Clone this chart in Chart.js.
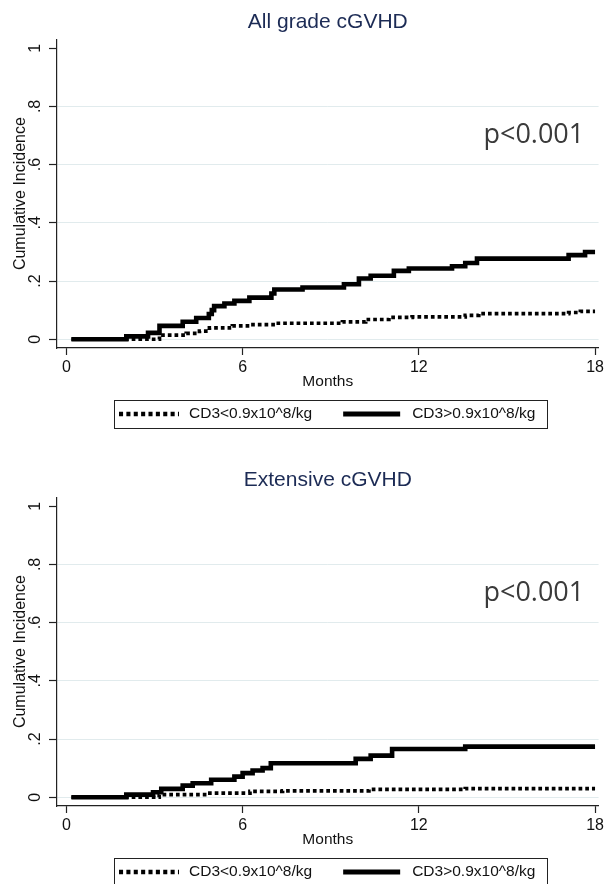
<!DOCTYPE html>
<html>
<head>
<meta charset="utf-8">
<script src="https://cdn.jsdelivr.net/npm/chart.js@4.4.0/dist/chart.umd.min.js"></script>
<style>
  html, body { margin: 0; padding: 0; background: #fff; overflow: hidden; }
  .panel { position: absolute; left: 0; width: 607px; height: 458px; }
</style>
</head>
<body>
<div class="panel" style="top:0"><canvas id="allGrade" width="607" height="458"></canvas></div>
<div class="panel" style="top:458px"><canvas id="extensive" width="607" height="458"></canvas></div>
<script>
/**
 * Cumulative incidence of cGVHD by CD3 dose
 */

const panelTitles = ['All grade cGVHD', 'Extensive cGVHD'];
const seriesLabels = ['CD3<0.9x10^8/kg', 'CD3>0.9x10^8/kg'];
const xTicks = [0, 6, 12, 18];
const yTicks = [0, 0.2, 0.4, 0.6, 0.8, 1];
const pText = 'p<0.001';

// All grade - CD3 low (dotted)
const allLowMonths = [0.17, 3.17, 4.08, 4.53, 4.87, 5.65, 6.23, 7.13, 9.4, 10.19, 10.98, 11.77, 13.58, 14.04, 17.1, 17.5, 18.0];
const allLowCI     = [0, 0.014, 0.02, 0.028, 0.039, 0.046, 0.05, 0.055, 0.06, 0.068, 0.075, 0.077, 0.082, 0.088, 0.092, 0.096, 0.096];

// All grade - CD3 high (solid)
const allHighMonths = [0.17, 2.04, 2.78, 3.17, 3.96, 4.42, 4.85, 4.95, 5.03, 5.38, 5.72, 6.23, 6.98, 7.08, 8.04, 9.45, 9.96, 10.36, 11.15, 11.66, 13.13, 13.58, 13.98, 17.1, 17.66, 18.0];
const allHighCI     = [0, 0.01, 0.022, 0.046, 0.06, 0.073, 0.087, 0.1, 0.114, 0.123, 0.132, 0.143, 0.157, 0.171, 0.178, 0.189, 0.209, 0.218, 0.235, 0.243, 0.251, 0.262, 0.277, 0.289, 0.3, 0.3];

// Extensive - CD3 low (dotted)
const extLowMonths = [0.17, 3.16, 4.8, 6.25, 7.36, 10.3, 13.58, 18.0];
const extLowCI     = [0, 0.009, 0.014, 0.02, 0.022, 0.027, 0.03, 0.03];

// Extensive - CD3 high (solid)
const extHighMonths = [0.17, 2.04, 2.95, 3.23, 3.96, 4.3, 4.93, 5.72, 6.0, 6.34, 6.68, 6.96, 9.85, 10.36, 11.09, 13.58, 18.0];
const extHighCI     = [0, 0.009, 0.017, 0.029, 0.04, 0.048, 0.06, 0.071, 0.083, 0.092, 0.1, 0.117, 0.132, 0.143, 0.166, 0.174, 0.174];

const FONT = '"Liberation Sans", Arial, sans-serif';
Chart.defaults.font.family = FONT;

function toPoints(months, ci) {
    return months.map((m, i) => ({ x: m, y: ci[i] }));
}

function yLabel(v) {
    if (v === 0) return '0';
    if (v === 1) return '1';
    return String(Math.round(v * 10) / 10).replace(/^0/, '');
}

// p-value text, placed in data coordinates
const pValuePlugin = {
    id: 'pValue',
    afterDatasetsDraw(chart) {
        const opts = chart.options.plugins.pValue;
        const { ctx, scales } = chart;
        ctx.save();
        ctx.font = '27px "Open Sans", sans-serif';
        ctx.fillStyle = '#3a3a3a';
        ctx.textAlign = 'left';
        ctx.textBaseline = 'middle';
        ctx.fillText(opts.text, scales.x.getPixelForValue(opts.x), scales.y.getPixelForValue(opts.y));
        ctx.restore();
    }
};

// Stata-like boxed legend under the x axis
const boxLegendPlugin = {
    id: 'boxLegend',
    afterDraw(chart) {
        const { ctx, chartArea } = chart;
        const sets = chart.data.datasets;
        const top = chartArea.bottom + 52;
        const h = 28;
        const midY = top + h / 2;
        ctx.save();
        ctx.font = '15.5px ' + FONT;
        const t0 = ctx.measureText(sets[0].label).width;
        const t1 = ctx.measureText(sets[1].label).width;
        const total = 5 + 60 + 10 + t0 + 31 + 57 + 12 + t1 + 12;
        const left = Math.round((chartArea.left + chartArea.right) / 2 + 2.5 - total / 2);

        ctx.strokeStyle = '#222';
        ctx.lineWidth = 1;
        ctx.strokeRect(left + 0.5, top + 0.5, Math.round(total), h);

        const drawSample = (ds, x0, len) => {
            ctx.beginPath();
            ctx.strokeStyle = ds.borderColor;
            ctx.lineWidth = ds.borderWidth + 0.6;
            ctx.setLineDash((ds.borderDash || []).map(d => d * 1.1));
            ctx.moveTo(x0, midY);
            ctx.lineTo(x0 + len, midY);
            ctx.stroke();
            ctx.setLineDash([]);
        };

        ctx.fillStyle = '#111';
        ctx.textAlign = 'left';
        ctx.textBaseline = 'middle';
        let x = left + 5;
        drawSample(sets[0], x, 60);
        x += 70;
        ctx.fillText(sets[0].label, x, midY);
        x += t0 + 31;
        drawSample(sets[1], x, 57);
        x += 69;
        ctx.fillText(sets[1].label, x, midY);
        ctx.restore();
    }
};

function makePanel(id, title, lowMonths, lowCI, highMonths, highCI) {
    return new Chart(document.getElementById(id), {
        type: 'line',
        data: {
            datasets: [
                {
                    label: seriesLabels[0],
                    data: toPoints(lowMonths, lowCI),
                    borderColor: '#000',
                    borderWidth: 3.7,
                    borderDash: [3.7, 3],
                    stepped: 'before',
                    pointRadius: 0,
                    fill: false
                },
                {
                    label: seriesLabels[1],
                    data: toPoints(highMonths, highCI),
                    borderColor: '#000',
                    borderWidth: 4.6,
                    stepped: 'before',
                    pointRadius: 0,
                    fill: false
                }
            ]
        },
        options: {
            responsive: false,
            animation: false,
            devicePixelRatio: 1,
            layout: { padding: { left: 0, right: 7, top: 0, bottom: 66 } },
            plugins: {
                legend: { display: false },
                tooltip: { enabled: false },
                title: {
                    display: true,
                    text: title,
                    fullSize: false,
                    color: '#1c2b55',
                    font: { family: FONT, size: 21, weight: 'normal' },
                    padding: { top: 10, bottom: 4 }
                },
                pValue: { text: pText, x: 14.2, y: 0.70 }
            },
            scales: {
                x: {
                    type: 'linear',
                    min: -0.32,
                    max: 18.12,
                    afterBuildTicks: s => { s.ticks = xTicks.map(v => ({ value: v })); },
                    afterFit: s => { s.height = 44; },
                    grid: { drawOnChartArea: false, tickLength: 7, tickColor: '#222', tickWidth: 1.2 },
                    border: { color: '#222', width: 1.2 },
                    ticks: { color: '#111', font: { size: 16 }, padding: 3, maxRotation: 0, autoSkip: false },
                    title: { display: true, text: 'Months', color: '#111', font: { size: 15.5 }, padding: { top: 0, bottom: 1 } }
                },
                y: {
                    min: -0.03,
                    max: 1.031,
                    afterBuildTicks: s => { s.ticks = yTicks.map(v => ({ value: v })); },
                    afterFit: s => { s.width = 57; },
                    grid: {
                        color: c => (c.tick && c.tick.value === 1) ? 'rgba(0,0,0,0)' : '#e1ebed',
                        tickLength: 8,
                        tickColor: '#222',
                        tickWidth: 1.2
                    },
                    border: { color: '#222', width: 1.2 },
                    ticks: {
                        color: '#111',
                        font: { size: 16 },
                        minRotation: 90,
                        maxRotation: 90,
                        crossAlign: 'center',
                        padding: 7,
                        callback: v => yLabel(v)
                    },
                    title: { display: true, text: 'Cumulative Incidence', color: '#111', font: { size: 16 }, padding: { top: 11, bottom: 0 } }
                }
            }
        },
        plugins: [pValuePlugin, boxLegendPlugin]
    });
}

makePanel('allGrade', panelTitles[0], allLowMonths, allLowCI, allHighMonths, allHighCI);
makePanel('extensive', panelTitles[1], extLowMonths, extLowCI, extHighMonths, extHighCI);
</script>
</body>
</html>
